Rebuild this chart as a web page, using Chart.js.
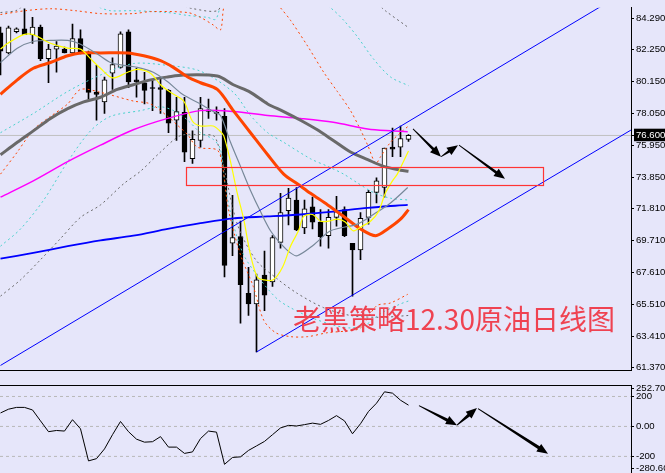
<!DOCTYPE html>
<html><head><meta charset="utf-8">
<script src="https://cdn.jsdelivr.net/npm/chart.js"></script>
<style>
html,body{margin:0;padding:0;background:#e6e6fa;width:665px;height:473px;overflow:hidden;position:relative;}
#c1{position:absolute;left:0;top:0;}
#c2{position:absolute;left:0;top:378px;}
</style></head><body>
<canvas id="c1" width="665" height="378"></canvas>
<canvas id="c2" width="665" height="102"></canvas>
<script>
// ---------- DATA ----------
const candleOpen  = [83.34,82.02,83.41,83.60,83.22,83.72,81.64,82.27,82.27,82.02,82.96,82.02,79.43,78.80,80.69,81.07,83.41,80.25,80.06,79.74,79.74,79.56,77.60,78.11,75.07,76.27,78.29,78.11,77.85,69.52,69.96,66.23,65.54,67.44,66.99,69.58,71.66,72.36,70.53,71.92,70.91,70.02,71.22,71.73,69.52,69.08,71.22,72.86,73.18,75.83,75.83,76.34];
const candleHigh  = [83.72,83.78,83.66,84.92,84.35,83.85,82.59,82.77,82.40,83.91,83.53,82.14,81.20,80.44,81.70,83.41,83.53,81.01,80.75,80.25,80.38,79.62,79.11,79.11,76.90,79.11,78.99,78.48,78.36,72.67,70.97,67.94,67.50,69.01,70.02,72.80,73.12,73.18,72.36,72.55,71.73,71.73,72.61,71.92,69.52,71.54,72.99,73.81,75.77,77.09,77.22,76.65];
const candleLow   = [80.57,81.95,83.34,83.22,82.65,81.51,80.06,80.75,82.02,81.95,81.95,78.99,77.60,78.04,79.62,81.01,79.74,79.11,78.67,78.23,78.04,76.78,76.27,74.88,74.76,75.83,77.72,77.60,67.31,68.70,64.28,64.78,62.38,65.10,66.68,69.20,70.72,70.34,70.15,70.46,69.33,69.20,70.65,69.96,66.05,68.44,70.78,72.17,72.55,75.20,75.20,76.21];
const candleClose = [82.14,83.66,83.60,83.22,83.72,81.64,82.27,82.46,82.02,82.96,82.02,79.43,79.30,80.25,81.26,83.28,80.12,80.12,79.56,79.68,79.62,77.41,78.17,75.51,76.34,78.36,78.17,78.04,68.07,69.90,66.80,65.54,67.12,66.11,69.90,71.54,72.48,70.40,71.79,70.91,69.96,71.22,71.60,70.02,69.08,71.16,72.86,73.62,75.77,75.70,76.40,76.60];

const maYellow = [[0,82.27],[0.9,82.65],[2.9,83.22],[4.1,83.22],[6.25,82.65],[8.4,82.33],[10,82.27],[11.25,81.64],[12.5,81.01],[14,80.38],[15.9,80.75],[17.1,80.94],[18.75,80.69],[20,79.93],[21.25,79.43],[22.9,78.86],[24,77.53],[25,77.22],[26.6,77.22],[27.4,76.90],[27.9,76.59],[28.75,74.88],[29.6,72.80],[30.4,71.10],[31.25,68.76],[32.1,67.31],[32.9,67.12],[34.1,67.12],[35.25,67.94],[36.25,69.33],[37.25,70.34],[37.9,71.28],[39,71.41],[40,70.97],[41,70.97],[42.1,71.10],[43.1,70.91],[44.1,70.34],[45.25,70.65],[46.25,70.97],[47.25,71.60],[48.1,72.80],[49,73.62],[49.6,74.06],[51,75.58]];
const maSlate = [[0,81.39],[2.1,82.33],[4.1,82.77],[6.25,82.84],[8.4,82.84],[10,82.59],[12.1,81.95],[13.75,81.39],[15.4,81.20],[17.1,81.07],[19.1,80.75],[20.9,80.12],[22.75,79.30],[25,78.67],[26.6,78.17],[27.5,77.91],[28.75,76.15],[30,74.57],[31.25,72.99],[32.5,71.60],[33.75,70.34],[35,69.52],[36.25,68.89],[37.1,68.70],[39.1,69.39],[41.25,70.34],[44.6,70.78],[46.6,71.41],[48.75,72.17],[50.9,73.18]];
const maRed = [[0,79.30],[2.1,80.25],[4.1,81.01],[6.25,81.39],[8.4,81.83],[10,82.02],[12.5,82.02],[15.9,82.02],[17.9,81.83],[20,81.51],[21.6,81.07],[23.4,80.44],[25,80.06],[27.1,79.62],[29.1,78.23],[31.25,76.78],[33.4,75.33],[35.4,74.06],[37.1,73.43],[38.75,72.80],[40.9,72.04],[42.9,71.28],[45,70.46],[46.9,70.02],[48.4,70.46],[50,71.10],[51,71.73]];
const maGrey = [[0,75.33],[2.1,76.15],[4.1,76.90],[6.25,77.72],[8.4,78.36],[10.4,78.80],[12.5,79.11],[14.6,79.62],[16.6,79.93],[18.75,80.25],[20.9,80.44],[22.9,80.57],[27.1,80.50],[29.1,79.93],[31.25,79.43],[33.4,78.67],[35.4,78.17],[37.5,77.60],[39.6,76.97],[41.6,76.27],[43.75,75.51],[45.9,75.01],[47.9,74.57],[50,74.32],[51,74.25]];
const maMagenta = [[0,72.55],[4.1,73.62],[8.4,74.88],[12.5,75.96],[16.6,76.97],[20.9,77.72],[25,78.23],[29.1,78.17],[33.4,77.91],[37.5,77.72],[41.6,77.47],[45.9,77.03],[49.1,76.90],[50.9,76.84]];
const maBlue = [[0,68.51],[4.1,68.89],[8.4,69.33],[12.5,69.71],[16.6,70.02],[20.9,70.46],[25,70.84],[29.1,71.16],[33.4,71.28],[37.5,71.41],[41.6,71.60],[45.9,71.85],[50.9,72.04]];

const bandRedUpper = [[0,84.54],[3.1,84.79],[6.25,84.92],[9.4,84.79],[12.5,84.60],[16.6,84.60],[18.75,84.73],[23.4,84.67],[25,84.35],[26.6,83.85],[27.5,83.53],[28.1,85.30],[30,85.80],[32.5,86.25],[33.75,85.74],[35,84.98],[36.25,84.16],[38.4,82.46],[40.4,80.75],[42.1,79.49],[43.75,78.23],[45,76.97],[45.9,75.96],[46.9,74.76],[47.5,75.20],[48.75,76.15],[50,76.78],[51,77.22]];
const bandRedLower = [[0,74.06],[2.1,75.51],[4.1,76.97],[6.25,77.85],[8.4,78.67],[10,79.62],[12.5,79.43],[16.6,78.86],[18.75,78.67],[20.9,77.85],[22.1,77.28],[23.4,76.65],[24.6,75.83],[27.1,75.64],[27.75,74.57],[28.5,71.73],[30,68.76],[31.6,66.68],[32.9,64.47],[34.4,63.65],[36.25,63.39],[38.4,63.39],[40.9,63.65],[43.4,63.77],[45,63.96],[47,65.41],[48.75,65.60],[50.9,66.17]];
const bandCyanUpper = [[11.25,85.30],[12.5,84.98],[13.75,84.79],[16.6,84.79],[20.9,84.67],[23.4,84.48],[25.9,84.35],[26.9,84.23],[28.1,85.62],[37.5,86.25],[41.25,84.98],[42.9,84.16],[44.6,83.09],[46.6,81.64],[48.75,80.44],[51,79.87]];
const bandCyanMid = [[0,76.78],[4.1,78.04],[8.4,79.49],[12.5,80.57],[16.6,81.32],[20.9,81.20],[25,80.82],[29.1,79.43],[31.25,77.91],[33.4,76.78],[35.4,76.15],[38.75,75.07],[40.9,74.57],[42.9,74.06],[44.6,73.49],[46.6,72.86],[48.75,72.48],[51,72.36]];
const bandCyanLower = [[0,69.33],[2.5,70.46],[5.4,72.36],[8.4,74.88],[11.25,76.90],[13.75,77.85],[17.5,78.23],[20,78.48],[21.9,78.17],[23.4,77.60],[25,76.78],[26.6,76.34],[27.5,75.70],[28.1,73.30],[29,70.97],[30.4,68.76],[32.5,67.12],[34.6,65.86],[36.25,65.29],[38.75,64.66],[41.6,64.15],[43.75,63.96],[45.6,64.15],[47.5,64.91],[50,65.54],[51,65.73]];
const bandGreyUpper = [[0,84.67],[1.9,84.79],[3.1,85.17],[12.5,86.25],[22.5,85.17],[24.1,84.92],[27.1,84.79],[28.1,85.62],[37.5,87.51],[46.25,85.62],[48.1,84.79],[50.9,83.72]];
const bandGreyLower = [[0,66.05],[2.5,67.12],[5,68.44],[7.5,69.83],[10,71.22],[12.5,72.04],[15.4,73.43],[17.5,74.25],[20,75.51],[22.5,76.59],[25,76.65],[26.6,76.59],[27.1,76.15],[27.9,74.57],[29.6,70.78],[31.9,68.44],[34.6,67.18],[37.1,66.23],[40.4,65.29],[43.75,64.78],[47.5,64.66],[51,64.78]];

const channelUpper = [[0,61.50],[78.8,86.25]];
const channelLower = [[32,62.38],[78.8,76.95]];
const lastPrice = 76.60;
const zoneX = [23.19, 67.81];
const zoneY = [73.30, 74.50];
const arrowsMain = [[51.56,77.03,55.06,75.20],[55.06,75.20,57.19,75.96],[57.31,75.96,63.06,73.75]];
const titleText = '老黑策略12.30原油日线图';
const titleAt = [36.56, 63.80];

const mainTickValues = [84.29,82.25,80.15,78.05,76.60,75.95,73.85,71.81,69.71,67.61,65.51,63.41,61.37];
const mainTickLabels = ['84.290','82.250','80.150','78.050','76.600','75.950','73.850','71.810','69.710','67.610','65.510','63.410','61.370'];

const cciValues = [90,115,127,127,110,37,-35,-27,-31,45,-16,-230,-215,-150,-55,33,-35,-85,-105,-102,-68,-138,-138,-180,-170,-81,-31,-38,-253,-207,-203,-160,-130,-100,-55,-10,7,3,12,22,14,40,72,37,-49,18,100,155,231,222,175,142];
const cciLevels = [200, 0, -200];
const cciTickValues = [252.707, 200, 0, -200, -280.60];
const cciTickLabels = ['252.707','200','0.00','-200','-280.60'];
const arrowsSub = [[52.31,138.9,57.06,8.6],[57.06,8.6,59.56,122.9],[59.69,118.9,68.44,-181.7]];

// ---------- SETUP ----------
Chart.defaults.animation = false;
Chart.defaults.font.family = '"Liberation Sans", Arial, sans-serif';
const X_MIN = -0.0625, X_MAX = 78.8125;
const idx = candleOpen.map((_, i) => i);

function lineDs(pairs, color, width, dash, order, tension) {
  return { type: 'line', data: pairs.map(p => ({ x: p[0], y: p[1] })), borderColor: color, borderWidth: width,
    borderDash: dash || [], pointRadius: 0, tension: tension === undefined ? 0.3 : tension, fill: false, order };
}

function drawArrow(ctx, x1, y1, x2, y2, w0, w1, headL, headW) {
  const a = Math.atan2(y2 - y1, x2 - x1), c = Math.cos(a), s = Math.sin(a);
  const bx = x2 - headL * c, by = y2 - headL * s;
  ctx.beginPath();
  ctx.moveTo(x1 + s * w0 / 2, y1 - c * w0 / 2);
  ctx.lineTo(bx + s * w1 / 2, by - c * w1 / 2);
  ctx.lineTo(bx + s * headW, by - c * headW);
  ctx.lineTo(x2, y2);
  ctx.lineTo(bx - s * headW, by + c * headW);
  ctx.lineTo(bx - s * w1 / 2, by + c * w1 / 2);
  ctx.lineTo(x1 - s * w0 / 2, y1 + c * w0 / 2);
  ctx.closePath();
  ctx.fill();
}

const mainOverlay = {
  id: 'mainOverlay',
  afterDatasetsDraw(chart) {
    const { ctx, scales: { x, y } } = chart;
    ctx.save();
    ctx.strokeStyle = '#ff3434'; ctx.lineWidth = 1.2;
    const rx1 = x.getPixelForValue(zoneX[0]), rx2 = x.getPixelForValue(zoneX[1]);
    const ry1 = y.getPixelForValue(zoneY[1]), ry2 = y.getPixelForValue(zoneY[0]);
    ctx.strokeRect(Math.round(rx1) + 0.5, Math.round(ry1) + 0.5, Math.round(rx2 - rx1), Math.round(ry2 - ry1));
    ctx.fillStyle = '#000';
    arrowsMain.forEach(a => drawArrow(ctx, x.getPixelForValue(a[0]), y.getPixelForValue(a[1]),
      x.getPixelForValue(a[2]), y.getPixelForValue(a[3]), 0.8, 2.6, 11, 4.5));
    ctx.font = '28px "Noto Sans CJK SC", sans-serif';
    ctx.fillStyle = 'rgba(240,52,66,0.92)';
    ctx.textBaseline = 'alphabetic';
    ctx.fillText(titleText, x.getPixelForValue(titleAt[0]), y.getPixelForValue(titleAt[1]));
    ctx.restore();
  }
};

const subOverlay = {
  id: 'subOverlay',
  afterDatasetsDraw(chart) {
    const { ctx, scales: { x, y } } = chart;
    ctx.save();
    ctx.fillStyle = '#000';
    arrowsSub.forEach(a => drawArrow(ctx, x.getPixelForValue(a[0]), y.getPixelForValue(a[1]),
      x.getPixelForValue(a[2]), y.getPixelForValue(a[3]), 1, 3.2, 11, 4.5));
    ctx.restore();
  }
};

const bodyColors = idx.map(i => candleClose[i] >= candleOpen[i] ? '#ffffff' : '#000000');
const tickFont = { size: 9.6 };

new Chart(document.getElementById('c1'), {
  type: 'bar',
  data: {
    datasets: [
      lineDs(channelUpper, '#0000ff', 1, [], 1, 0),
      lineDs(channelLower, '#0000ff', 1, [], 1, 0),
      lineDs(maYellow, '#ffff00', 1.2, [], 2),
      lineDs(maSlate, '#778899', 1.2, [], 2),
      lineDs(maRed, '#ff4500', 3, [], 2),
      lineDs(maGrey, '#696969', 3, [], 2),
      lineDs(maMagenta, '#ff00ff', 1.5, [], 2),
      lineDs(maBlue, '#0000ff', 1.8, [], 2),
      lineDs([[X_MIN, lastPrice], [X_MAX, lastPrice]], '#c0c0c0', 1, [], 7, 0),
      lineDs(bandRedUpper, '#ff4500', 1, [2, 3], 4),
      lineDs(bandRedLower, '#ff4500', 1, [2, 3], 4),
      lineDs(bandCyanUpper, '#48d1cc', 1, [2, 3], 4),
      lineDs(bandCyanMid, '#48d1cc', 1, [2, 3], 4),
      lineDs(bandCyanLower, '#48d1cc', 1, [2, 3], 4),
      lineDs(bandGreyUpper, '#696969', 1, [2, 3], 4),
      lineDs(bandGreyLower, '#696969', 1, [2, 3], 4),
      { type: 'bar', data: idx.map(i => ({ x: i, y: [candleOpen[i], candleClose[i]] })), backgroundColor: bodyColors,
        borderColor: '#000', borderWidth: 1, borderSkipped: false, barThickness: 5, grouped: false, order: 5 },
      { type: 'bar', data: idx.map(i => ({ x: i, y: [candleLow[i], candleHigh[i]] })), backgroundColor: '#000',
        borderWidth: 0, barThickness: 1, grouped: false, order: 6 }
    ]
  },
  options: {
    responsive: false, animation: false,
    layout: { padding: 0 },
    plugins: { legend: { display: false }, tooltip: { enabled: false } },
    scales: {
      x: { type: 'linear', min: X_MIN, max: X_MAX, position: 'bottom', offset: false,
        ticks: { display: false }, grid: { display: true, offset: false, drawOnChartArea: false, drawTicks: false },
        border: { display: true, color: '#000', width: 1 },
        afterFit: s => { s.height = 1; } },
      y: { type: 'linear', position: 'right', min: 61.184, max: 84.984,
        afterBuildTicks: s => { s.ticks = mainTickValues.map(v => ({ value: v })); },
        afterFit: s => { s.width = 34; },
        grid: { drawOnChartArea: false, drawTicks: true, tickLength: 3, tickColor: '#000' },
        border: { display: true, color: '#000', width: 1 },
        ticks: { autoSkip: false, padding: 2, font: tickFont,
          callback: (v) => mainTickLabels[mainTickValues.indexOf(v)] ?? '',
          color: c => (c.tick && c.tick.value === lastPrice) ? '#ffffff' : '#000000',
          showLabelBackdrop: c => !!(c.tick && c.tick.value === lastPrice),
          backdropColor: '#000000', backdropPadding: { top: 1, bottom: 0, left: 2, right: 4 } } }
    }
  },
  plugins: [mainOverlay]
});

new Chart(document.getElementById('c2'), {
  type: 'line',
  data: {
    datasets: [
      ...cciLevels.map(v => lineDs([[X_MIN, v], [X_MAX, v]], '#b8b8b8', 1, [3, 3], 3, 0)),
      lineDs(idx.map(i => [i, cciValues[i]]), '#000000', 1, [], 1, 0)
    ]
  },
  options: {
    responsive: false, animation: false,
    layout: { padding: 0 },
    plugins: { legend: { display: false }, tooltip: { enabled: false } },
    scales: {
      x: { type: 'linear', min: X_MIN, max: X_MAX, position: 'top', offset: false,
        ticks: { display: false }, grid: { display: true, drawOnChartArea: false, drawTicks: false },
        border: { display: true, color: '#000', width: 1 },
        afterFit: s => { s.height = 1; } },
      y: { type: 'linear', position: 'right', min: -305.71, max: 271.43,
        afterBuildTicks: s => { s.ticks = cciTickValues.map(v => ({ value: v })); },
        afterFit: s => { s.width = 34; },
        grid: { drawOnChartArea: false, drawTicks: true, tickLength: 3, tickColor: '#000' },
        border: { display: true, color: '#000', width: 1 },
        ticks: { autoSkip: false, padding: 2, font: tickFont, color: '#000',
          callback: (v) => cciTickLabels[cciTickValues.indexOf(v)] ?? '' } }
    }
  },
  plugins: [subOverlay]
});
</script>
</body></html>
